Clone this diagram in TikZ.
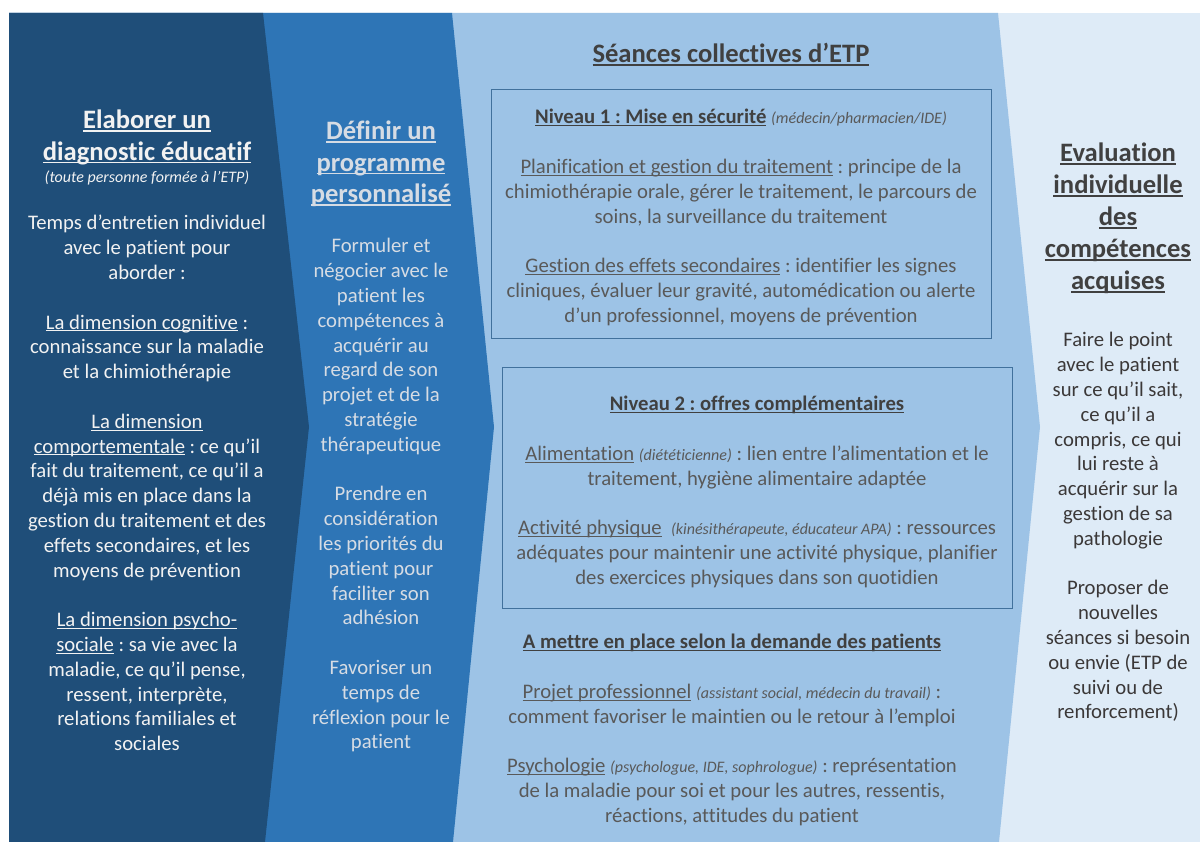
\documentclass[tikz,border=0pt]{standalone}
\usepackage{fontspec}
\setmainfont{Carlito}[Ligatures=NoCommon]
\usetikzlibrary{positioning}
\definecolor{etpnavy}{HTML}{1F4E79}
\definecolor{etpblue}{HTML}{2E75B6}
\definecolor{etpsky}{HTML}{9DC3E6}
\definecolor{etpice}{HTML}{DEEBF7}
\definecolor{etpframe}{HTML}{41719C}
\definecolor{txtlight}{HTML}{F2F2F2}
\definecolor{txtmist}{HTML}{D6DCE4}
\definecolor{txtgrey}{HTML}{595959}
\definecolor{txtdark}{HTML}{404040}
\definecolor{txtbrown}{HTML}{3B3838}
\newsavebox{\ulbox}
\newcommand{\ulx}[1]{\leavevmode\sbox{\ulbox}{#1}\rlap{\rule[-0.11em]{\wd\ulbox}{0.055em}}\usebox{\ulbox}}
\newcommand{\who}[1]{{\fontsize{16}{19}\selectfont\itshape #1}}
\newcommand{\gap}{\\[24.8pt]}

\begin{document}
\begin{tikzpicture}[
  x=1pt, y=1pt,
  body/.style={
    text width=300pt, align=flush center, inner sep=0pt, anchor=base,
    font=\frenchspacing\fontsize{20.7}{24.8}\selectfont
  },
  head/.style={body, font=\frenchspacing\bfseries\fontsize{26.6}{31.5}\selectfont},
  wide/.style={body, text width=560pt},
  levelbox/.style={draw=etpframe, line width=1pt},
]
  \useasboundingbox[fill=white] (0,0) rectangle (1200,842);

  % Chevron panels, right to left
  \fill[etpice] (9,0) rectangle (1200,829);
  \fill[etpsky] (9,0) -- (9,829) -- (998,829) -- (1040,415) -- (999,0) -- cycle;
  \fill[etpblue] (9,0) -- (9,829) -- (452,829) -- (494,415) -- (453,0) -- cycle;
  \fill[etpnavy] (9,0) -- (9,829) -- (263,829) -- (309,415) -- (265,0) -- cycle;

  % Level frames
  \draw[levelbox] (491,503) rectangle (991,752);
  \draw[levelbox] (502,233) rectangle (1012,474);

  % Panel 1: diagnostic
  \node[head, text=txtlight] (diagtitle) at (147,713)
    {\ulx{Elaborer un}\\\ulx{diagnostic éducatif}};
  \node[body, text=txtlight] (diagwho) at (147,659)
    {\who{(toute personne formée à l’ETP)}};
  \node[body, text=txtlight] (diagbody) at (147,612)
    {Temps d’entretien individuel\\avec le patient pour\\aborder :\gap
     \ulx{La dimension cognitive} :\\connaissance sur la maladie\\et la chimiothérapie\gap
     \ulx{La dimension}\\\ulx{comportementale} : ce qu’il\\fait du traitement, ce qu’il a\\
     déjà mis en place dans la\\gestion du traitement et des\\effets secondaires, et les\\
     moyens de prévention\gap
     \ulx{La dimension psycho-}\\\ulx{sociale} : sa vie avec la\\maladie, ce qu’il pense,\\
     ressent, interprète,\\relations familiales et\\sociales};

  % Panel 2: programme
  \node[head, text=txtmist] (progtitle) at (381,702)
    {\ulx{Définir un}\\\ulx{programme}\\\ulx{personnalisé}};
  \node[body, text=txtmist] (progbody) at (381,589)
    {Formuler et\\négocier avec le\\patient les\\compétences à\\acquérir au\\
     regard de son\\projet et de la\\stratégie\\thérapeutique\gap
     Prendre en\\considération\\les priorités du\\patient pour\\faciliter son\\adhésion\gap
     Favoriser un\\temps de\\réflexion pour le\\patient};

  % Panel 3: collective sessions
  \node[wide, head, text width=560pt, text=txtdark] (sesstitle) at (731,779)
    {\ulx{Séances collectives d’ETP}};
  \node[wide, text=txtgrey] (levelone) at (741,718)
    {{\bfseries\color{txtdark}\ulx{Niveau 1 : Mise en sécurité}} \who{(médecin/pharmacien/IDE)}\gap
     \ulx{Planification et gestion du traitement} : principe de la\\
     chimiothérapie orale, gérer le traitement, le parcours de\\
     soins, la surveillance du traitement\gap
     \ulx{Gestion des effets secondaires} : identifier les signes\\
     cliniques, évaluer leur gravité, automédication ou alerte\\
     d’un professionnel, moyens de prévention};
  \node[wide, text=txtgrey] (leveltwo) at (757,431)
    {{\bfseries\color{txtdark}\ulx{Niveau 2 : offres complémentaires}}\gap
     \ulx{Alimentation} \who{(diététicienne)} : lien entre l’alimentation et le\\
     traitement, hygiène alimentaire adaptée\gap
     \ulx{Activité physique}\ \ \who{(kinésithérapeute, éducateur APA)} : ressources\\
     adéquates pour maintenir une activité physique, planifier\\
     des exercices physiques dans son quotidien};
  \node[wide, text=txtgrey] (ondemand) at (732,193)
    {{\bfseries\color{txtdark}\ulx{A mettre en place selon la demande des patients}}\gap
     \ulx{Projet professionnel} \who{(assistant social, médecin du travail)} :\\
     comment favoriser le maintien ou le retour à l’emploi\gap
     \ulx{Psychologie} \who{(psychologue, IDE, sophrologue)} : représentation\\
     de la maladie pour soi et pour les autres, ressentis,\\
     réactions, attitudes du patient};

  % Panel 4: evaluation
  \node[head, text=txtdark, font=\frenchspacing\bfseries\fontsize{26.6}{32}\selectfont] (evaltitle) at (1118,680)
    {\ulx{Evaluation}\\\ulx{individuelle}\\\ulx{des}\\\ulx{compétences}\\\ulx{acquises}};
  \node[body, text=txtbrown] (evalbody) at (1118,495)
    {Faire le point\\avec le patient\\sur ce qu’il sait,\\ce qu’il a\\compris, ce qui\\
     lui reste à\\acquérir sur la\\gestion de sa\\pathologie\gap
     Proposer de\\nouvelles\\séances si besoin\\ou envie (ETP de\\suivi ou de\\renforcement)};
\end{tikzpicture}
\end{document}
